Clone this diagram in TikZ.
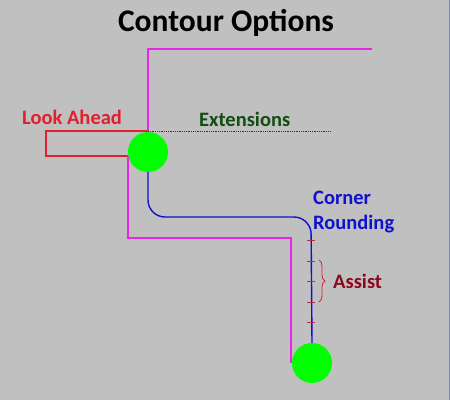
\documentclass[tikz,border=0pt]{standalone}
\usepackage{fontspec}
\setmainfont{Carlito}
\usetikzlibrary{decorations.pathreplacing}
\definecolor{panel}{HTML}{C0C0C0}
\definecolor{frameblue}{HTML}{8080D8}
\definecolor{contourpink}{HTML}{E628E6}
\definecolor{aheadred}{HTML}{E0202C}
\definecolor{extgreen}{HTML}{114E11}
\definecolor{roundblue}{HTML}{1010D0}
\definecolor{assistred}{HTML}{8B0A1E}
\definecolor{tickred}{HTML}{B03048}
\tikzset{
  {contour path/.style} ={draw,line width=1.4pt,contourpink},
  {ahead path/.style} ={draw,line width=1.4pt,aheadred},
  {tool path/.style} ={draw,line width=1.4pt,roundblue,rounded corners=17pt},
  {tool point/.style} ={circle,fill=green,inner sep=0,minimum size=40pt},
  {label/.style} ={inner sep=0,anchor=base west,font=\fontsize{20.5}{25}\selectfont\bfseries},
  {assist tick/.style} ={draw,line width=0.8pt,tickred},
}
\begin{document}
\begin{tikzpicture}[x=1pt,y=-1pt]
    \fill[panel] (0,0) rectangle (450,400);
    \useasboundingbox (0,0) rectangle (450,400);
    \draw[frameblue,line width=1.5pt] (449.25,0) -- (449.25,400);
    \node[inner sep=0,anchor=base,font=\fontsize{31.5}{36}\selectfont\bfseries] (title) at (226,31) {Contour Options};
    % part contour and look ahead
    \draw[contour path] (372,49) -- (148,49) -- (148,131);
    \draw[ahead path] (148,131) -- (46,131) -- (46,156) -- (128,156);
    \draw[contour path] (128,156) -- (128,238) -- (291,238) -- (291,363);
    \draw[extgreen,densely dotted,line width=0.8pt] (148,131) -- (330,131);
    % tool positions
    \node[tool point] (start) at (148,152) {};
    \node[tool point] (finish) at (312,363) {};
    \draw[tool path] (start.south) -- (148,217) -- (311,217) -- (finish.north);
    \foreach \y in {240,261,281,302,322}
      \draw[assist tick] (307,\y) -- (315,\y);
    \draw[aheadred,line width=0.8pt,decorate,decoration={brace,amplitude=6pt}] (319,260) -- (319,302);
    % labels
    \node[label,aheadred] (lookahead) at (22,124) {Look Ahead};
    \node[label,extgreen] (extensions) at (199,126) {Extensions};
    \node[label,roundblue] (corner) at (313,204) {Corner};
    \node[label,roundblue] (rounding) at (313,229) {Rounding};
    \node[label,assistred] (assist) at (333,288) {Assist};
\end{tikzpicture}
\end{document}
